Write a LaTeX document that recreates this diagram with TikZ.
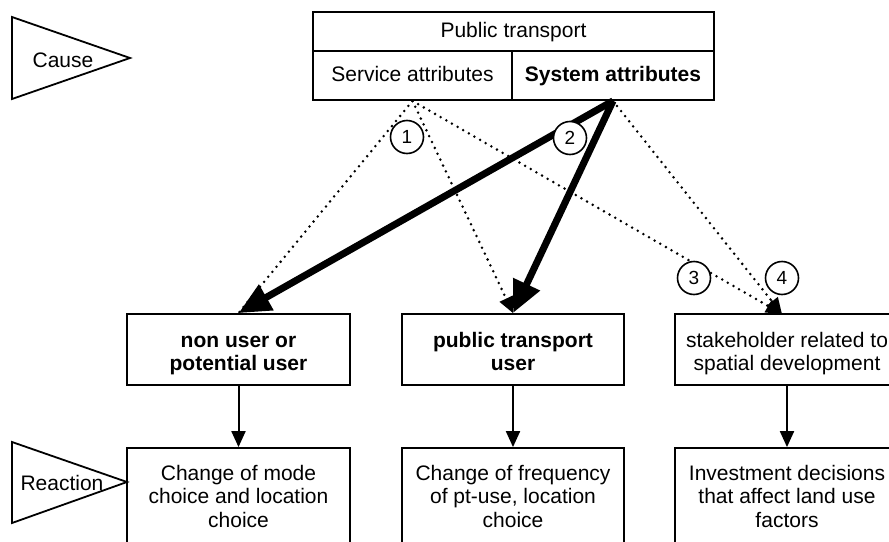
\documentclass[tikz,border=0pt]{standalone}
\usepackage{fontspec}
\setmainfont{Liberation Sans}
\usetikzlibrary{arrows.meta,calc}
\begin{document}
\begin{tikzpicture}[x=1pt,y=-1pt,
  every node/.style={font=\fontsize{21}{23.5}\selectfont},
  box/.style={draw,line width=1.8pt,inner sep=0pt,align=center},
  oneline/.style={text height=15pt,text depth=4pt},
  txt/.style={align=center,inner sep=0pt},
  tri/.style={draw,line width=1.8pt,line join=miter},
  circ/.style={draw,circle,line width=1.6pt,fill=white,minimum size=33pt,inner sep=0pt,font=\fontsize{19}{21}\selectfont},
  dotline/.style={line width=2.8pt,dash pattern=on 0pt off 6.5pt,line cap=round},
  dotarrow/.style={dotline,-{Triangle[length=16pt,width=14pt]}},
  thickarrow/.style={line width=7pt,-{Triangle[length=32pt,width=28pt]}},
  thinarrow/.style={line width=2pt,-{Triangle[length=16pt,width=14pt]}}
]
\useasboundingbox (0,0) rectangle (889,541);
\clip (0,0) rectangle (889,541);
\fill[white] (0,0) rectangle (889,541);

% Cause / Reaction markers
\draw[tri] (12,17) -- (130,58) -- (12,99) -- cycle;
\node (cause) at (63,60) {Cause};
\draw[tri] (12,442) -- (127,482) -- (12,523) -- cycle;
\node (reaction) at (62,483) {Reaction};

% Top box
\node[box,oneline,minimum width=401pt,minimum height=39pt] (header) at (513.5,31.5) {Public transport};
\node[box,oneline,minimum width=199pt,minimum height=49pt] (service) at (412.5,75.5) {Service attributes};
\node[box,oneline,minimum width=202pt,minimum height=49pt] (system) at (613,75.5) {\textbf{System attributes}};

% Actor boxes
\node[box,minimum width=223pt,minimum height=71pt] (nonuser) at (238.5,349.5) {};
\node[txt] (nonuserT) at (238.5,354.5) {\strut\textbf{non user or}\\\strut\textbf{potential user}};
\node[box,minimum width=222pt,minimum height=71pt] (ptuser) at (513,349.5) {};
\node[txt] (ptuserT) at (513,354.5) {\strut\textbf{public transport}\\\strut\textbf{user}};
\node[box,minimum width=224pt,minimum height=71pt] (stake) at (787,349.5) {};
\node[txt] (stakeT) at (787,354.5) {\strut stakeholder related to\\\strut spatial development};

% Reaction boxes
\node[box,minimum width=223pt,minimum height=96pt] (r1) at (238.5,496) {Change of mode\\choice and location\\choice};
\node[box,minimum width=222pt,minimum height=96pt] (r2) at (513,496) {Change of frequency\\of pt-use, location\\choice};
\node[box,minimum width=224pt,minimum height=96pt] (r3) at (787,496) {Investment decisions\\that affect land use\\factors};

\coordinate (stakein) at (782,314);

% Dotted connectors
\draw[dotline] (service.south) -- (nonuser.north);
\draw[dotarrow] (service.south) -- (ptuser.north);
\draw[dotarrow] (service.south) -- (stakein);
\draw[dotarrow] (system.south) -- (stakein);

% Thick connectors
\draw[thickarrow] (system.south) -- (nonuser.north);
\draw[thickarrow] (system.south) -- (ptuser.north);

% Thin connectors
\draw[thinarrow] (nonuser.south) -- (r1.north);
\draw[thinarrow] (ptuser.south) -- (r2.north);
\draw[thinarrow] (stake.south) -- (r3.north);

% Numbered circles
\node[circ] (c1) at (407,137) {1};
\node[circ] (c2) at (570,138) {2};
\node[circ] (c3) at (694,278) {3};
\node[circ] (c4) at (782,278) {4};
\end{tikzpicture}
\end{document}
